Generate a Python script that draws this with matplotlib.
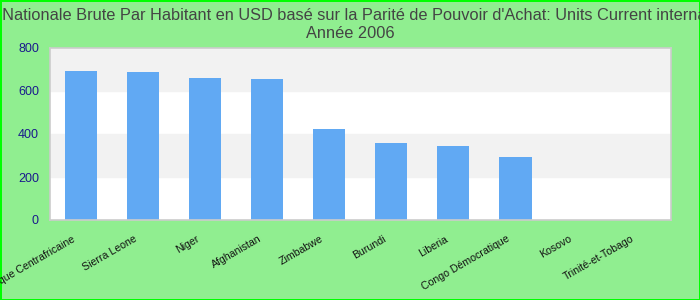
import matplotlib as mpl
mpl.use('Agg')
import matplotlib.pyplot as plt
import matplotlib.transforms as mtransforms
import numpy as np

plt.rcParams['font.family'] = ['Liberation Sans', 'DejaVu Sans']

# data
countries = ['République Centrafricaine', 'Sierra Leone', 'Niger', 'Afghanistan',
             'Zimbabwe', 'Burundi', 'Liberia', 'Congo Démocratique', 'Kosovo',
             'Trinité-et-Tobago']
values = [693, 688, 660, 656, 423, 358, 344, 293, 0, 0]
yticks = [0, 200, 400, 600, 800]

title = ("Revenu Nationale Brute Par Habitant en USD basé sur la Parité de Pouvoir "
         "d'Achat: Units Current international $\nAnnée 2006")

fig = plt.figure(figsize=(7, 3), dpi=100)
fig.patch.set_facecolor('#90EE90')
fig.patch.set_edgecolor('#00FF00')
fig.patch.set_linewidth(2)

ax = fig.add_axes([50 / 700, 80 / 300, 620.5 / 700, 172 / 300])
ax.set_facecolor('white')

# alternating bands
for i in range(len(yticks) - 1):
    if i % 2 == 1:
        ax.axhspan(yticks[i], yticks[i + 1], color='#F2F2F2', zorder=0)

x = np.arange(len(countries))
ax.bar(x, values, width=0.52, color='#61A9F3', zorder=2)

ax.set_xlim(-0.5, len(countries) - 0.5)
ax.set_ylim(0, 800)
ax.set_yticks(yticks)
ax.set_yticklabels([str(v) for v in yticks], color='#1A1A8C', fontsize=9)
ax.set_xticks(x)
ax.set_xticklabels(countries, rotation=30, ha='right', rotation_mode='anchor',
                   fontsize=7.6, color='#111111')
ax.tick_params(axis='both', length=0)
ax.tick_params(axis='x', pad=10)
ax.tick_params(axis='y', pad=8)

# shift labels a bit left like the original
shift = mtransforms.ScaledTranslation(-9 / 100, 0, fig.dpi_scale_trans)
for lbl in ax.get_xticklabels():
    lbl.set_transform(lbl.get_transform() + shift)

for s in ax.spines.values():
    s.set_color('#CCCCCC')
    s.set_linewidth(1.2)

fig.text(0.5, 0.975, title, ha='center', va='top', fontsize=11.8,
         color='#444444', linespacing=1.3)

fig.savefig('out.png', dpi=100, facecolor=fig.get_facecolor(),
            edgecolor=fig.get_edgecolor())
